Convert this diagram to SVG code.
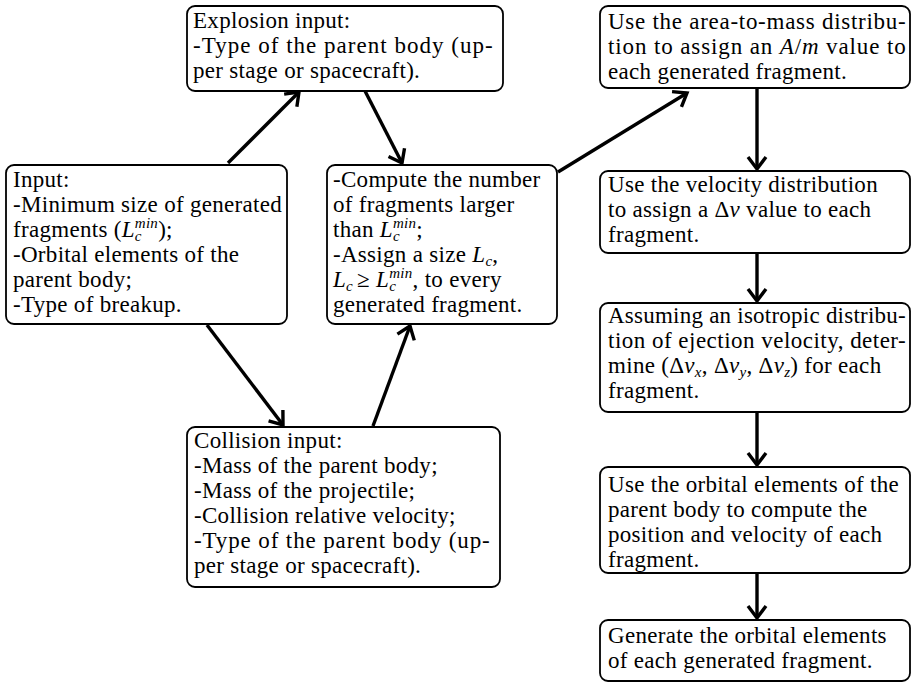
<svg xmlns="http://www.w3.org/2000/svg" width="913" height="684" viewBox="0 0 913 684">
<style>
.box{fill:#fff;stroke:#000;stroke-width:1.8}
.t{font-family:"Liberation Serif","Times New Roman",Tinos,"DejaVu Serif",serif;font-size:23px;letter-spacing:0.3px;fill:#000}
.i{font-style:italic}
.s{font-size:15px}
.c line{stroke:#000;stroke-width:3.4;marker-end:url(#ah)}
</style>
<defs>
<marker id="ah" markerUnits="userSpaceOnUse" markerWidth="30" markerHeight="30" viewBox="-20 -15 30 30" refX="0" refY="0" orient="auto">
<path d="M-12,-9 L0,0 L-12,9" fill="none" stroke="#000" stroke-width="3.4" stroke-linejoin="miter"/>
</marker>
</defs>
<rect width="913" height="684" fill="#fff"/>
<g id="explosion">
<rect class="box" x="187" y="6" width="316" height="85" rx="8"/>
<text class="t" x="193" y="28">Explosion input:</text>
<text class="t" x="193" y="53" textLength="300" lengthAdjust="spacing">-Type of the parent body (up-</text>
<text class="t" x="193" y="78">per stage or spacecraft).</text>
</g>
<g id="input">
<rect class="box" x="6" y="165" width="281" height="159" rx="8"/>
<text class="t" x="13" y="187">Input:</text>
<text class="t" x="13" y="212">-Minimum size of generated</text>
<text class="t" x="13" y="237">fragments (<tspan class="i">L</tspan><tspan class="s i" baseline-shift="-4">c</tspan><tspan class="s i" dx="-7" baseline-shift="9">min</tspan>);</text>
<text class="t" x="13" y="262">-Orbital elements of the</text>
<text class="t" x="13" y="287">parent body;</text>
<text class="t" x="13" y="312">-Type of breakup.</text>
</g>
<g id="compute">
<rect class="box" x="327" y="165" width="230" height="159" rx="8"/>
<text class="t" x="333" y="187">-Compute the number</text>
<text class="t" x="333" y="212">of fragments larger</text>
<text class="t" x="333" y="237">than <tspan class="i">L</tspan><tspan class="s i" baseline-shift="-4">c</tspan><tspan class="s i" dx="-7" baseline-shift="9">min</tspan>;</text>
<text class="t" x="333" y="262">-Assign a size <tspan class="i">L</tspan><tspan class="s i" baseline-shift="-4">c</tspan>,</text>
<text class="t" x="333" y="287"><tspan class="i">L</tspan><tspan class="s i" baseline-shift="-4">c</tspan><tspan dx="4">≥</tspan> <tspan class="i">L</tspan><tspan class="s i" baseline-shift="-4">c</tspan><tspan class="s i" dx="-7" baseline-shift="9">min</tspan>, to every</text>
<text class="t" x="333" y="312">generated fragment.</text>
</g>
<g id="collision">
<rect class="box" x="187" y="427" width="313" height="160" rx="8"/>
<text class="t" x="194" y="448">Collision input:</text>
<text class="t" x="194" y="473">-Mass of the parent body;</text>
<text class="t" x="194" y="498">-Mass of the projectile;</text>
<text class="t" x="194" y="523">-Collision relative velocity;</text>
<text class="t" x="194" y="548" textLength="296" lengthAdjust="spacing">-Type of the parent body (up-</text>
<text class="t" x="194" y="573">per stage or spacecraft).</text>
</g>
<g id="areamass">
<rect class="box" x="600" y="6" width="310" height="82" rx="8"/>
<text class="t" x="608" y="29" textLength="298" lengthAdjust="spacing">Use the area-to-mass distribu-</text>
<text class="t" x="608" y="54" textLength="298" lengthAdjust="spacing">tion to assign an <tspan class="i">A</tspan>/<tspan class="i">m</tspan> value to</text>
<text class="t" x="608" y="79">each generated fragment.</text>
</g>
<g id="velocity">
<rect class="box" x="600" y="171" width="310" height="82" rx="8"/>
<text class="t" x="608" y="192">Use the velocity distribution</text>
<text class="t" x="608" y="217">to assign a Δ<tspan class="i">v</tspan> value to each</text>
<text class="t" x="608" y="242">fragment.</text>
</g>
<g id="isotropic">
<rect class="box" x="600" y="303" width="310" height="109" rx="8"/>
<text class="t" x="608" y="323" textLength="298" lengthAdjust="spacing">Assuming an isotropic distribu-</text>
<text class="t" x="608" y="348" textLength="298" lengthAdjust="spacing">tion of ejection velocity, deter-</text>
<text class="t" x="608" y="373">mine (Δ<tspan class="i">v</tspan><tspan class="s i" baseline-shift="-4">x</tspan>, Δ<tspan class="i">v</tspan><tspan class="s i" baseline-shift="-4">y</tspan>, Δ<tspan class="i">v</tspan><tspan class="s i" baseline-shift="-4">z</tspan>) for each</text>
<text class="t" x="608" y="398">fragment.</text>
</g>
<g id="position">
<rect class="box" x="600" y="467" width="310" height="106" rx="8"/>
<text class="t" x="608" y="492">Use the orbital elements of the</text>
<text class="t" x="608" y="517">parent body to compute the</text>
<text class="t" x="608" y="542">position and velocity of each</text>
<text class="t" x="608" y="567">fragment.</text>
</g>
<g id="generate">
<rect class="box" x="600" y="620" width="310" height="61" rx="8"/>
<text class="t" x="608" y="643">Generate the orbital elements</text>
<text class="t" x="608" y="668">of each generated fragment.</text>
</g>
<g id="connectors" class="c">
<line x1="228" y1="163" x2="299" y2="92"/>
<line x1="365" y1="91" x2="402" y2="163"/>
<line x1="207" y1="325" x2="283" y2="425"/>
<line x1="373" y1="426" x2="410" y2="326"/>
<line x1="558" y1="172" x2="687" y2="93"/>
<line x1="757" y1="88" x2="757" y2="169"/>
<line x1="757" y1="253" x2="757" y2="301"/>
<line x1="757" y1="412" x2="757" y2="465"/>
<line x1="757" y1="573" x2="757" y2="618"/>
</g>
</svg>
